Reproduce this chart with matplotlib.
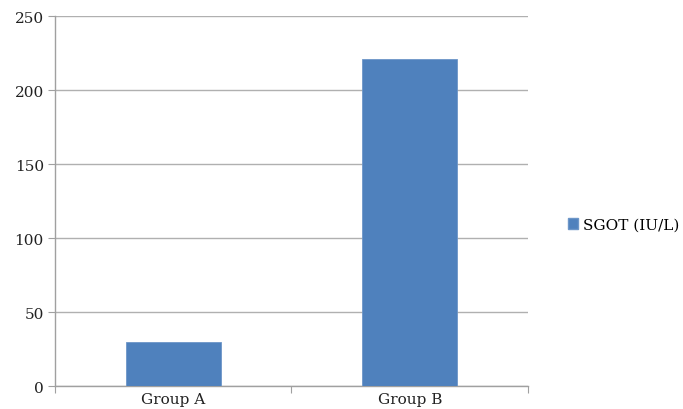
import matplotlib
matplotlib.use("Agg")
import matplotlib.pyplot as plt
from matplotlib.patches import Patch

groups = ["Group A", "Group B"]
sgot = [29.5, 221]
yticks = [0, 50, 100, 150, 200, 250]

plt.rcParams['font.family'] = ['DejaVu Serif']

fig = plt.figure(figsize=(6.83, 4.10), dpi=100)
ax = fig.add_axes([0.0805, 0.056, 0.6925, 0.9025])

bar_color = "#4f81bd"
x = list(range(len(groups)))
ax.bar(x, sgot, width=0.4, color=bar_color, edgecolor="#6d96c8", linewidth=0.6, zorder=3)

ax.set_xlim(-0.5, len(groups) - 0.5)
ax.set_ylim(0, 250)
ax.set_yticks(yticks)
ax.set_yticklabels([str(v) for v in yticks], fontsize=11, color="#222222")
ax.yaxis.grid(True, color="#b0b0b0", linewidth=1.0, zorder=0)

# category labels centred, tick marks between categories
ax.set_xticks([-0.5, 0.5, 1.5])
ax.set_xticklabels([])
ax.set_xticks(x, minor=True)
ax.set_xticklabels(groups, minor=True, fontsize=11, color="#222222")
ax.tick_params(axis="x", which="minor", length=0, pad=4)
ax.tick_params(axis="x", which="major", length=5, color="#a0a0a0", direction="out")
ax.tick_params(axis="y", length=5, color="#a0a0a0", direction="out", pad=3)

for side in ["top", "right"]:
    ax.spines[side].set_visible(False)
for side in ["left", "bottom"]:
    ax.spines[side].set_color("#a0a0a0")
    ax.spines[side].set_linewidth(1.0)

handle = Patch(facecolor=bar_color, edgecolor="#6d96c8", label="SGOT (IU/L)")
fig.legend(handles=[handle], loc="center left", bbox_to_anchor=(0.822, 0.45),
           frameon=False, fontsize=11, handlelength=0.7, handleheight=0.7,
           handletextpad=0.3, borderaxespad=0)

fig.savefig("out.png", dpi=100)
